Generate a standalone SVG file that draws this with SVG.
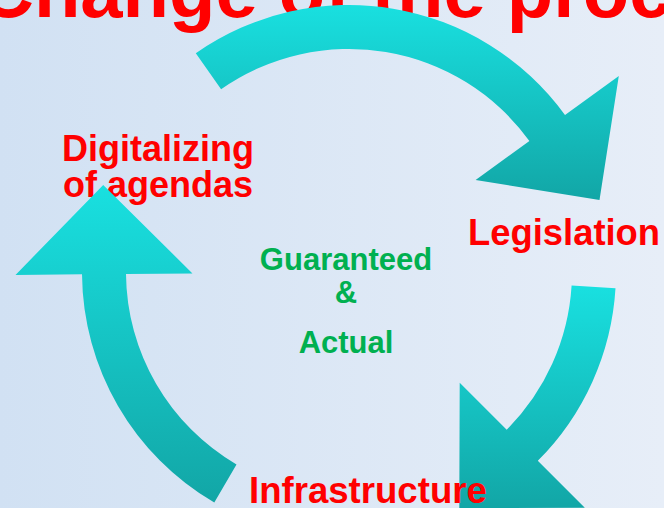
<svg xmlns="http://www.w3.org/2000/svg" width="664" height="508" viewBox="0 0 664 508">
<defs>
<linearGradient id="bg" x1="0" y1="0" x2="1" y2="0">
<stop offset="0" stop-color="#D1E1F3"/>
<stop offset="1" stop-color="#E7EEF8"/>
</linearGradient>
<linearGradient id="arrowFill" x1="0" y1="0" x2="0" y2="1">
<stop offset="0" stop-color="#19E0E0"/>
<stop offset="1" stop-color="#12A6A6"/>
</linearGradient>
<style>
.lbl{font-family:"Liberation Sans",Arial,sans-serif;font-weight:bold;}
.red{fill:#FF0000;font-size:36px;}
.grn{fill:#00B050;font-size:31px;}
.arrow{fill:url(#arrowFill);}
</style>
</defs>
<rect width="664" height="508" fill="url(#bg)"/>
<g id="title">
<text class="lbl" x="-21" y="17" style="font-size:76px;fill:#FF0000">Change of the process</text>
</g>
<g id="node-digitalizing">
<text class="lbl red" x="158" y="161" text-anchor="middle">Digitalizing</text>
<text class="lbl red" x="158" y="197" text-anchor="middle">of agendas</text>
</g>
<g id="connectors">
<path class="arrow" d="M195.8,53.3 A267,267 0 0 1 565,115.1 L618.8,76 L599.5,200 L475.6,180 L529.4,140.9 A223,223 0 0 0 221.1,89.3 Z"/>
<path class="arrow" d="M615.5,288.3 A267,267 0 0 1 537.8,460.8 L584.8,507.8 L459.3,508.1 L459.7,382.7 L506.7,429.7 A223,223 0 0 0 571.6,285.6 Z"/>
<path class="arrow" d="M214.3,502.5 A267,267 0 0 1 82,274.3 L15.5,274.9 L103.2,185.1 L192.5,273.4 L126,273.9 A223,223 0 0 0 236.5,464.5 Z"/>
</g>
<g id="node-legislation">
<text class="lbl red" x="468" y="245" style="font-size:36.4px">Legislation</text>
</g>
<g id="node-infrastructure">
<text class="lbl red" x="249" y="503" style="font-size:36.6px">Infrastructure</text>
</g>
<g id="node-center">
<text class="lbl grn" x="346" y="270" text-anchor="middle">Guaranteed</text>
<text class="lbl grn" x="346" y="303" text-anchor="middle">&amp;</text>
<text class="lbl grn" x="346" y="353" text-anchor="middle">Actual</text>
</g>
</svg>
